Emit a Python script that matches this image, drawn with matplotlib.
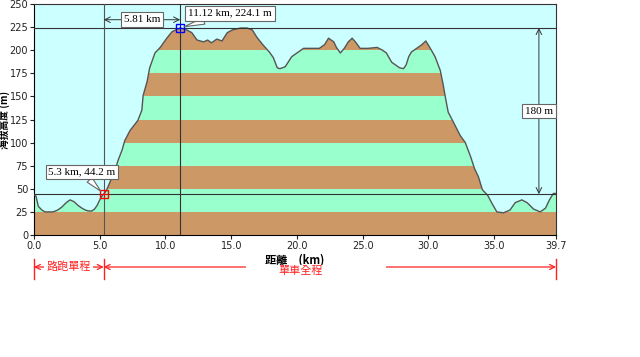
import matplotlib
matplotlib.use("Agg")
import matplotlib.pyplot as plt
from matplotlib.patches import Polygon
import matplotlib.transforms as mtransforms

plt.rcParams['font.family'] = ['DejaVu Sans', 'Noto Sans CJK TC']

# ---- data ----
dist_km = [0, 0.15, 0.33, 0.6, 0.84, 1.15, 1.45, 1.8, 2.1, 2.45, 2.74, 3.05, 3.35, 3.65,
           3.9, 4.15, 4.4, 4.6, 4.8, 5.0, 5.2, 5.3, 5.5, 5.8, 6.15, 6.4, 6.7, 6.9, 7.3,
           7.9, 8.2, 8.3, 8.6, 8.8, 9.2, 9.6, 10.1, 10.5, 10.95, 11.12, 11.6, 12.0, 12.4,
           12.9, 13.2, 13.5, 13.9, 14.3, 14.7, 15.1, 15.7, 16.2, 16.6, 16.95, 17.4, 17.9,
           18.2, 18.5, 18.7, 19.1, 19.6, 20.0, 20.5, 21.2, 21.7, 22.1, 22.4, 22.8, 23.0,
           23.3, 23.6, 23.9, 24.2, 24.5, 24.8, 25.4, 26.1, 26.5, 26.8, 27.2, 27.5, 27.8,
           28.1, 28.3, 28.5, 28.7, 29.1, 29.5, 29.8, 30.1, 30.5, 30.9, 31.1, 31.3, 31.5,
           31.9, 32.4, 32.8, 33.2, 33.5, 33.8, 34.1, 34.5, 34.8, 35.2, 35.7, 36.2, 36.6,
           37.1, 37.5, 38.0, 38.5, 38.9, 39.2, 39.5, 39.7]
elev_m = [44, 42, 31, 27, 25, 25, 25, 27, 30, 35, 38, 36, 32, 29,
          27, 26, 26, 28, 32, 38, 43, 44.2, 48, 58, 70, 81, 92, 102, 113,
          124, 135, 151, 166, 181, 197, 203, 213, 220, 223, 224.1, 222, 219, 211,
          209, 211, 208, 212, 210, 219, 222, 224, 224, 222, 214, 206, 198,
          192, 181, 180, 182, 193, 197, 202, 202, 202, 206, 213, 209, 203,
          197, 202, 209, 213, 208, 202, 202, 203, 200, 197, 187, 184, 181,
          180, 184, 193, 198, 202, 206, 210, 203, 193, 178, 164, 148, 133,
          122, 108, 100, 85, 72, 63, 49, 43, 35, 25, 24, 27, 35,
          38, 35, 28, 25, 29, 38, 45, 45]

x_ticks = [0.0, 5.0, 10.0, 15.0, 20.0, 25.0, 30.0, 35.0, 39.7]
x_ticklabels = ["0.0", "5.0", "10.0", "15.0", "20.0", "25.0", "30.0", "35.0", "39.7"]
y_ticks = list(range(0, 251, 25))
band_edges = list(range(0, 226, 25))  # bands of 25 m

low_pt = (5.3, 44.2)
high_pt = (11.12, 224.1)
dist_diff_label = "5.81 km"
elev_diff_label = "180 m"
low_label = "5.3 km, 44.2 m"
high_label = "11.12 km, 224.1 m"
run_label = "路跑單程"
bike_label = "單車全程"
xlabel = "距離　(km)"
ylabel = "海拔高度 (m)"

SKY = "#CCFFFF"
BROWN = "#CC9966"
GREEN = "#99FFCC"

fig = plt.figure(figsize=(6.40, 3.57), dpi=100)
ax = fig.add_axes([34/640, 1-235/357, 522/640, 231/357])
ax.set_facecolor(SKY)
ax.set_xlim(0, 39.7)
ax.set_ylim(0, 250)

# terrain polygon
verts = list(zip(dist_km, elev_m)) + [(dist_km[-1], 0), (dist_km[0], 0)]
poly = Polygon(verts, closed=True, facecolor='none', edgecolor='none', transform=ax.transData)
ax.add_patch(poly)
for i, b in enumerate(band_edges):
    col = BROWN if i % 2 == 0 else GREEN
    r = ax.axhspan(b, b + 25, color=col, lw=0, zorder=1)
    r.set_clip_path(poly)
ax.plot(dist_km, elev_m, color="#555555", lw=1.0, zorder=3)

# reference lines
ax.axhline(low_pt[1], color="#333333", lw=0.8, zorder=4)
ax.axhline(high_pt[1], color="#333333", lw=0.8, zorder=4)
ax.axvline(low_pt[0], color="#555555", lw=0.8, zorder=4)
ax.axvline(high_pt[0], color="#333333", lw=0.8, zorder=4)

ax.plot([low_pt[0]], [low_pt[1]], marker='s', ms=6, mfc='none', mec='red', mew=1, zorder=6)
ax.plot([low_pt[0]], [low_pt[1]], marker='+', ms=4, color='red', mew=0.8, zorder=6)
ax.plot([high_pt[0]], [high_pt[1]], marker='s', ms=6, mfc='none', mec='blue', mew=1, zorder=6)
ax.plot([high_pt[0]], [high_pt[1]], marker='+', ms=4, color='blue', mew=0.8, zorder=6)

boxfont = dict(family=['Liberation Serif'], size=8)
bbox = dict(boxstyle='square,pad=0.25', fc='white', ec='#666666', lw=0.8)

# horizontal distance arrow
ydist = 233
ax.annotate('', xy=(low_pt[0], ydist), xytext=(high_pt[0], ydist),
            arrowprops=dict(arrowstyle='<->', color='#333333', lw=0.7, shrinkA=0, shrinkB=0), zorder=5)
ax.text((low_pt[0] + high_pt[0]) / 2, ydist, dist_diff_label, ha='center', va='center',
        bbox=bbox, zorder=7, **boxfont)

# vertical elevation arrow
xel = 38.4
ax.annotate('', xy=(xel, low_pt[1]), xytext=(xel, high_pt[1]),
            arrowprops=dict(arrowstyle='<->', color='#333333', lw=0.7, shrinkA=0, shrinkB=0), zorder=5)
ax.text(xel, 134, elev_diff_label, ha='center', va='center', bbox=bbox, zorder=7, **boxfont)

# callouts
ax.annotate(low_label, xy=low_pt, xytext=(3.65, 68), ha='center', va='center',
            bbox=bbox, zorder=7,
            arrowprops=dict(arrowstyle='wedge,tail_width=0.6,shrink_factor=0.5', fc='white',
                            ec='#666666', lw=0.8, shrinkA=0, shrinkB=3), **boxfont)
ax.annotate(high_label, xy=high_pt, xytext=(14.9, 240), ha='center', va='center',
            bbox=bbox, zorder=7,
            arrowprops=dict(arrowstyle='wedge,tail_width=0.6,shrink_factor=0.5', fc='white',
                            ec='#666666', lw=0.8, shrinkA=0, shrinkB=3), **boxfont)

# ticks
ax.set_xticks(x_ticks)
ax.set_xticklabels(x_ticklabels)
ax.set_yticks(y_ticks)
ax.tick_params(direction='out', length=3, width=0.8, labelsize=7, pad=1.2, colors='#222222')
for s in ax.spines.values():
    s.set_color('#333333')
    s.set_linewidth(0.8)
ax.spines['left'].set_color('black')
ax.spines['bottom'].set_color('black')

cjk = ['Noto Sans CJK TC', 'DejaVu Sans']
ax.set_xlabel(xlabel, family=cjk, fontsize=8, fontweight='bold', labelpad=2)
ax.set_ylabel(ylabel, family=cjk, fontsize=7, fontweight='bold', va='center')
ax.yaxis.set_label_coords(-29/522, 0.5)

# red range annotations below axis
trans = mtransforms.blended_transform_factory(ax.transData, fig.transFigure)
y_line = 1 - 267/357
y_top = 1 - 259/357
y_bot = 1 - 279/357
red = '#FF2020'
for xb in [0.0, low_pt[0], 39.7]:
    fig.add_artist(plt.Line2D([xb, xb], [y_bot, y_top], transform=trans, color=red, lw=1))
# run arrow 0 <-> 5.3
ax.annotate('', xy=(0.0, y_line), xytext=(low_pt[0], y_line), xycoords=trans, textcoords=trans,
            arrowprops=dict(arrowstyle='<->', color=red, lw=0.9, shrinkA=0, shrinkB=0,
                            mutation_scale=9), annotation_clip=False)
fig.text((0.0 + low_pt[0]) / 2, y_line, run_label, color=red, fontsize=8, family=cjk,
         va='center', ha='center', transform=trans, bbox=dict(fc='white', ec='none', pad=1.5))
# bike arrow 5.3 <-> 39.7
ax.annotate('', xy=(39.7, y_line), xytext=(low_pt[0], y_line), xycoords=trans, textcoords=trans,
            arrowprops=dict(arrowstyle='<->', color=red, lw=0.9, shrinkA=0, shrinkB=0,
                            mutation_scale=9), annotation_clip=False)
fig.text(20.3, 1 - 271/357, bike_label, color=red, fontsize=8, family=cjk, va='center',
         ha='center', transform=trans,
         bbox=dict(fc='white', ec='none', pad=0, boxstyle='square,pad=0'))
# white gap around bike label
fig.add_artist(plt.Line2D([16.3, 26.6], [y_line, y_line], transform=trans, color='white', lw=3,
                          zorder=2.5))

fig.savefig("out.png", dpi=100, facecolor='white')
